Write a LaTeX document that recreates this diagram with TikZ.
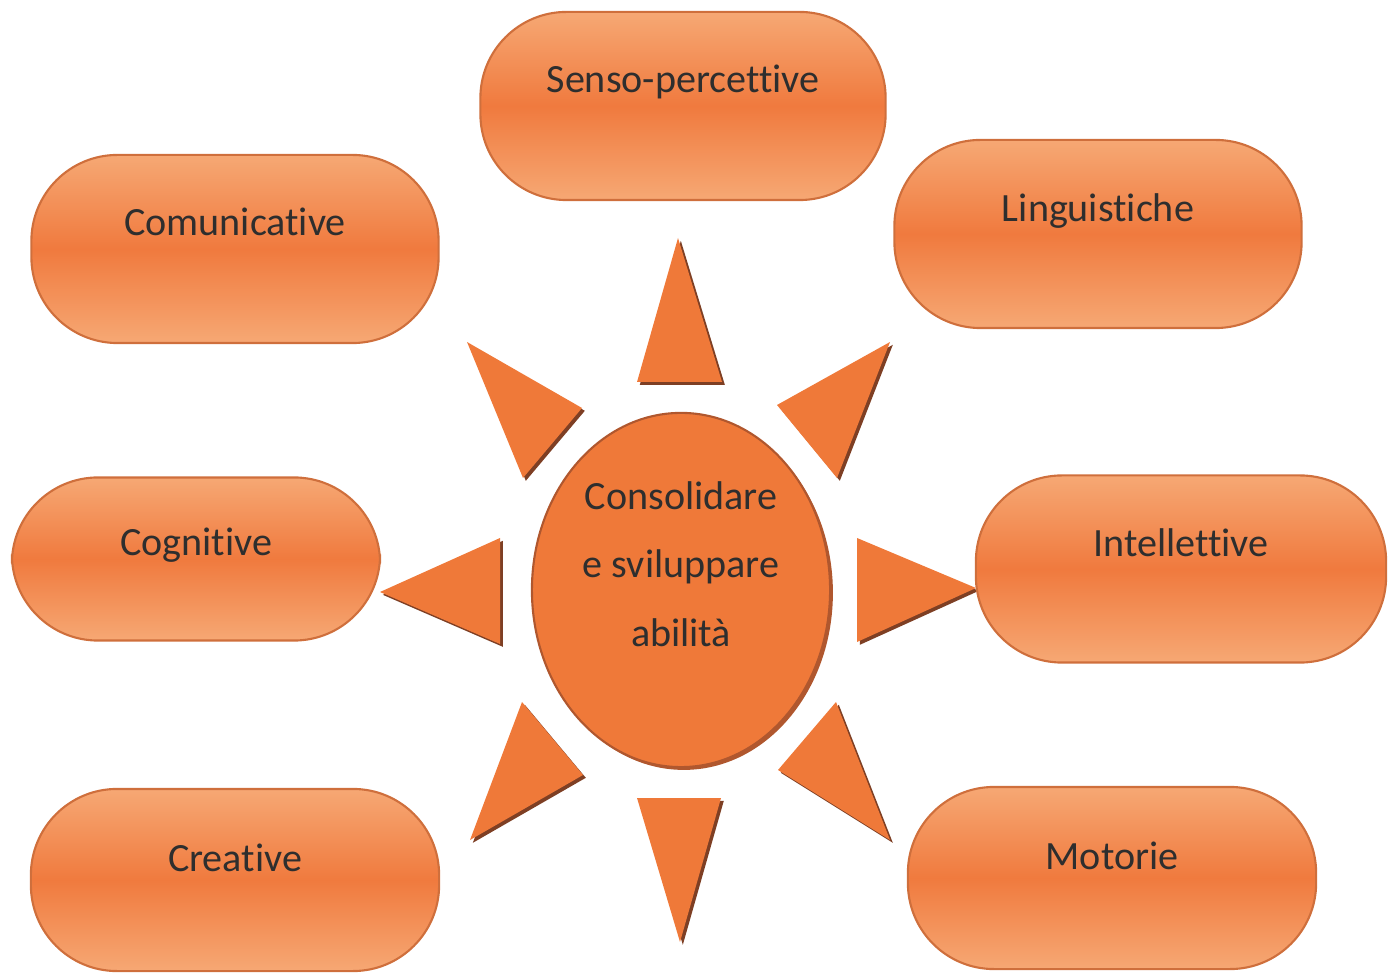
\documentclass[tikz,border=0pt]{standalone}
\usepackage{fontspec}
\setmainfont[Ligatures=NoCommon]{Carlito}
\usetikzlibrary{shapes.geometric}

\definecolor{pilllight}{HTML}{F6A874}
\definecolor{pillmid}{HTML}{F07A3E}
\definecolor{pilledge}{HTML}{CF6F3C}
\definecolor{sunorange}{HTML}{EF7939}
\definecolor{sunedge}{HTML}{B0572E}
\definecolor{rayshade}{HTML}{7E3F24}
\definecolor{labeltext}{HTML}{2E2E2E}

\tikzset{
    pill/.style={rectangle, rounded corners=0.86cm, draw=pilledge, line width=0.6pt,
        top color=pilllight, bottom color=pilllight, middle color=pillmid,
        minimum width=4.07cm, minimum height=1.88cm, inner sep=0pt},
    pilltext/.style={anchor=base, text=labeltext, font=\fontsize{11.4}{14}\selectfont},
    ray/.style={fill=sunorange,
        preaction={fill=rayshade, transform canvas={shift={(0.8pt,-0.8pt)}}}}
}

\begin{document}
\begin{tikzpicture}[x=0.01cm, y=-0.01cm]
    \useasboundingbox (0,0) rectangle (1395,977);

    % rays round the sun
    \fill[ray] (678,238) -- (722,382) -- (637,382) -- cycle;
    \fill[ray] (467,342) -- (582,408) -- (523,478) -- cycle;
    \fill[ray] (890,342) -- (837,478) -- (777,405) -- cycle;
    \fill[ray] (380,592) -- (500,538) -- (500,644) -- cycle;
    \fill[ray] (976,588) -- (857,538) -- (857,642) -- cycle;
    \fill[ray] (522,702) -- (583,775) -- (470,840) -- cycle;
    \fill[ray] (637,798) -- (721,798) -- (680,942) -- cycle;
    \fill[ray] (836,702) -- (890,840) -- (778,770) -- cycle;

    \node[ellipse, draw=sunedge, fill=sunorange, line width=0.6pt,
        minimum width=2.98cm, minimum height=3.54cm, inner sep=0pt,
        preaction={fill=sunedge, transform canvas={shift={(0.8pt,-0.8pt)}}}] (sun) at (681,590) {};

    \node[pilltext, anchor=center, align=center, font=\fontsize{11.4}{19.5}\selectfont] (suntext) at ([yshift=0.26cm]sun.center) {
        Consolidare\\e sviluppare\\abilità
    };

    % the seven abilities
    \node[pill, minimum width=4.05cm] (sen) at (683,106) {};
    \node[pill] (com) at (235,249) {};
    \node[pill] (lin) at (1098,234) {};
    \node[pill, minimum width=3.68cm, minimum height=1.63cm] (cog) at (196,559) {};
    \node[pill, minimum width=4.1cm, minimum height=1.87cm] (int) at (1181,569) {};
    \node[pill, minimum width=4.08cm, minimum height=1.82cm] (cre) at (235,880) {};
    \node[pill, minimum width=4.08cm, minimum height=1.82cm] (mot) at (1112,878) {};

    \node[pilltext] (senlabel) at ([yshift=0.13cm]sen.center) {Senso-percettive};
    \node[pilltext] (comlabel) at ([yshift=0.13cm]com.center) {Comunicative};
    \node[pilltext] (linlabel) at ([yshift=0.12cm]lin.center) {Linguistiche};
    \node[pilltext] (coglabel) at ([yshift=0.03cm]cog.center) {Cognitive};
    \node[pilltext] (intlabel) at ([yshift=0.12cm]int.center) {Intellettive};
    \node[pilltext] (crelabel) at ([yshift=0.08cm]cre.center) {Creative};
    \node[pilltext] (motlabel) at ([yshift=0.08cm]mot.center) {Motorie};
\end{tikzpicture}
\end{document}
